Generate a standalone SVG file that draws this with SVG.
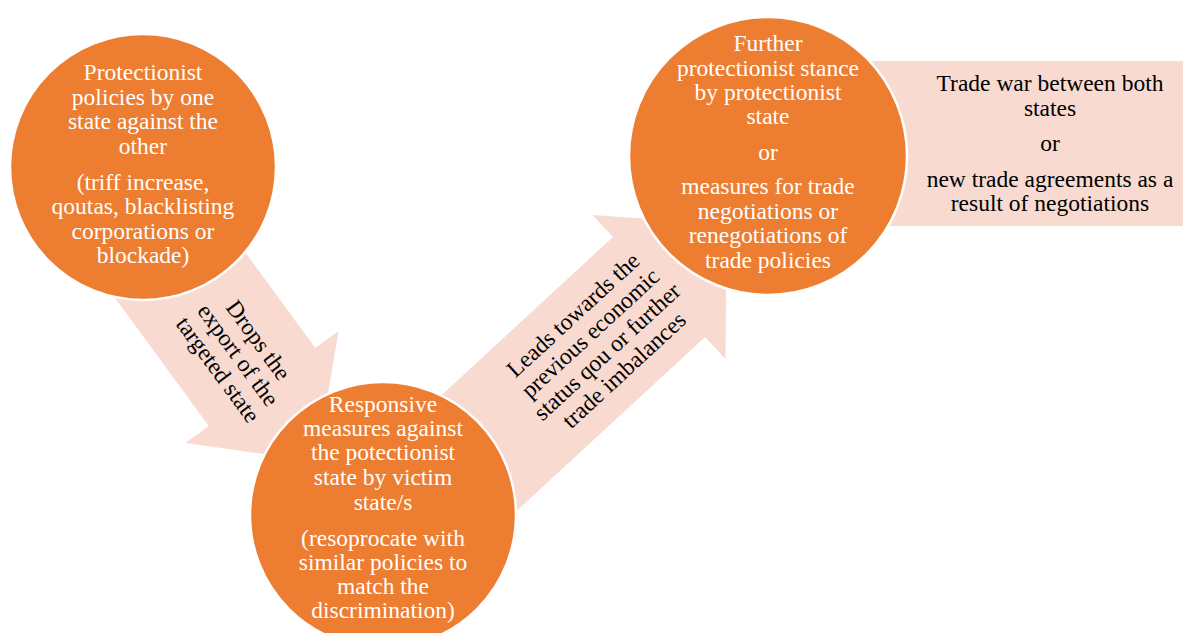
<svg xmlns="http://www.w3.org/2000/svg" width="1184" height="633" viewBox="0 0 1184 633">
<style>
.arrow{fill:#F8DAD1;}
.box{fill:#F8DAD1;}
.circ{fill:#ED7D31;stroke:#FFFFFF;stroke-width:2.5;}
text{font-family:"Liberation Serif","Times New Roman",serif;font-size:23.5px;text-anchor:middle;}
.w{fill:#FFFFFF;}
.k{fill:#000000;}
</style>
<rect width="1184" height="633" fill="#FFFFFF"/>
<g id="connectors">
  <g id="arrow1" transform="translate(262,387) rotate(53.8)">
    <polygon class="arrow" points="-225,-66 0,-66 0,-95 92,0 0,95 0,66 -225,66"/>
    <text class="k" transform="translate(-40,0)"><tspan x="0" y="-17">Drops the</tspan><tspan x="0" y="8">export of the</tspan><tspan x="0" y="33">targeted state</tspan></text>
  </g>
  <g id="arrow2" transform="translate(659,287) rotate(-42.7)">
    <polygon class="arrow" points="-335,-68 0,-68 0,-98 92,0 0,98 0,68 -335,68"/>
    <text class="k" transform="translate(-82,0)"><tspan x="0" y="-30">Leads towards the</tspan><tspan x="0" y="-5">previous economic</tspan><tspan x="0" y="20">status qou or further</tspan><tspan x="0" y="45">trade imbalances</tspan></text>
  </g>
</g>
<g id="node-result">
  <rect class="box" x="860" y="61" width="323" height="165"/>
  <text class="k"><tspan x="1050" y="91">Trade war between both</tspan><tspan x="1050" y="116">states</tspan><tspan x="1050" y="151">or</tspan><tspan x="1050" y="187">new trade agreements as a</tspan><tspan x="1050" y="211">result of negotiations</tspan></text>
</g>
<g id="node-protectionist">
  <circle class="circ" cx="143" cy="167" r="133"/>
  <text class="w"><tspan x="143" y="80">Protectionist</tspan><tspan x="143" y="105">policies by one</tspan><tspan x="143" y="129">state against the</tspan><tspan x="143" y="154">other</tspan><tspan x="143" y="190">(triff increase,</tspan><tspan x="143" y="214">qoutas, blacklisting</tspan><tspan x="143" y="239">corporations or</tspan><tspan x="143" y="263">blockade)</tspan></text>
</g>
<g id="node-responsive">
  <circle class="circ" cx="383" cy="515" r="133"/>
  <text class="w"><tspan x="383" y="412">Responsive</tspan><tspan x="383" y="436">measures against</tspan><tspan x="383" y="460">the potectionist</tspan><tspan x="383" y="485">state by victim</tspan><tspan x="383" y="510">state/s</tspan><tspan x="383" y="546">(resoprocate with</tspan><tspan x="383" y="570">similar policies to</tspan><tspan x="383" y="594">match the</tspan><tspan x="383" y="618">discrimination)</tspan></text>
</g>
<g id="node-further">
  <circle class="circ" cx="768" cy="156" r="139"/>
  <text class="w"><tspan x="768" y="51">Further</tspan><tspan x="768" y="76">protectionist stance</tspan><tspan x="768" y="100">by protectionist</tspan><tspan x="768" y="124">state</tspan><tspan x="768" y="160">or</tspan><tspan x="768" y="194">measures for trade</tspan><tspan x="768" y="219">negotiations or</tspan><tspan x="768" y="243">renegotiations of</tspan><tspan x="768" y="268">trade policies</tspan></text>
</g>
</svg>
